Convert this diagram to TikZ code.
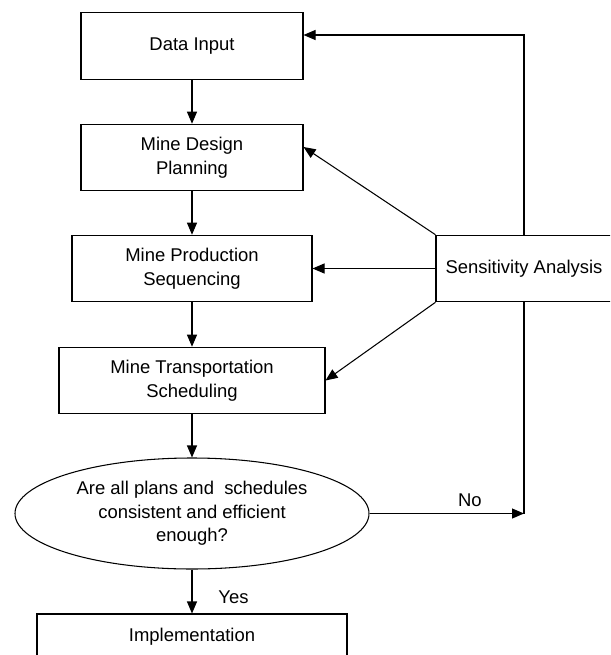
\documentclass[tikz,border=0pt]{standalone}
\usepackage{fontspec}
\setmainfont{Liberation Sans}
\usetikzlibrary{shapes.geometric, arrows.meta}

\begin{document}
\begin{tikzpicture} [scale = 1, line width = 0.6pt,
  font = \fontsize{10.5}{13.4}\selectfont,
  >={Triangle[length = 0.24cm, width = 0.2cm]},
  box/.style = {draw, rectangle, align = center, minimum height = 1.33cm, inner sep = 0pt},
  decision/.style = {draw, ellipse, align = center, minimum width = 7.08cm, minimum height = 2.22cm, inner sep = 0pt}]
\useasboundingbox (0.0, 0.0) rectangle (12.2, -13.1);
\clip (0.0, 0.0) rectangle (12.2, -13.1);
\node[box, minimum width = 4.44cm] (data) at (3.84, -0.92){Data Input};
\node[box, minimum width = 4.44cm] (design) at (3.84, -3.15){Mine Design\\Planning};
\node[box, minimum width = 4.80cm] (production) at (3.84, -5.37){Mine Production\\Sequencing};
\node[box, minimum width = 5.32cm] (transport) at (3.84, -7.61){Mine Transportation\\Scheduling};
\node[decision] (check) at (3.84, -10.27){Are all plans and~ schedules\\consistent and efficient\\enough?};
\node[box, minimum width = 6.20cm, minimum height = 0.92cm] (impl) at (3.84, -12.74){Implementation};
\node[box, minimum width = 3.52cm] (sens) at (10.48, -5.37){Sensitivity Analysis};
\coordinate (join) at (sens.south |- check.east);
\draw[->] (data) -- (design);
\draw[->] (design) -- (production);
\draw[->] (production) -- (transport);
\draw[->] (transport) -- (check);
\draw[->] (check) -- node[right = 0.4cm, pos = 0.62]{Yes} (impl);
\draw[->] (sens.north) |- ([yshift = 0.22cm]data.east);
\draw[->] (sens.north west) -- ([yshift = 0.21cm]design.east);
\draw[->] (sens.west) -- (production.east);
\draw[->] (sens.south west) -- (transport.east);
\draw (sens.south) -- (join);
\draw[->] (check.east) -- node[above, pos = 0.65]{No} (join);
\end{tikzpicture}
\end{document}
